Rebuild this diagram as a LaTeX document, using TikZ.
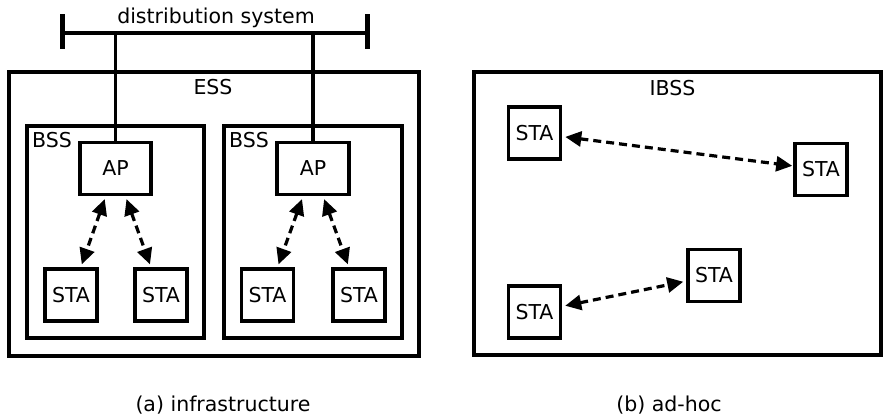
\documentclass[tikz,border=0pt]{standalone}
\usepackage{fontspec}
\setmainfont{DejaVu Sans}
\usetikzlibrary{arrows.meta}
\begin{document}
\begin{tikzpicture}[x=1pt,y=-1pt,
  font=\fontsize{20.5}{24}\selectfont,
  area/.style={draw, line width=3.6pt, inner sep=0pt},
  unit/.style={draw, line width=3.6pt, inner sep=0pt, minimum width=52pt, minimum height=52pt},
  accesspt/.style={draw, line width=3.6pt, inner sep=0pt, minimum width=71.5pt, minimum height=52pt},
  radio/.style={line width=3.2pt, dash pattern=on 8pt off 5pt,
    {Triangle[length=16pt,width=15pt]}-{Triangle[length=16pt,width=15pt]},
    shorten <=3pt, shorten >=3pt},
  wire/.style={line width=3.4pt},
  lbl/.style={inner sep=0pt, anchor=base}]
  \useasboundingbox (0,0) rectangle (885,419);

  % ---- infrastructure mode ----
  \node[area, minimum width=410.5pt, minimum height=284.5pt] (ess) at (214,214) {};
  \node[area, minimum width=177.5pt, minimum height=212.5pt] (bssA) at (115.5,232) {};
  \node[area, minimum width=178.5pt, minimum height=212.5pt] (bssB) at (313,232) {};

  \node[accesspt] (apA) at (115.5,168.5) {AP};
  \node[accesspt] (apB) at (313,168.5) {AP};

  \node[unit] (s1) at (71,295) {STA};
  \node[unit] (s2) at (161,295) {STA};
  \node[unit] (s3) at (267.5,295) {STA};
  \node[unit] (s4) at (359,295) {STA};

  % distribution system bus with end stops
  \coordinate (busL) at (62,33);
  \coordinate (busR) at (367,33);
  \draw[wire] (busL) -- (busR);
  \draw[line width=5pt] ([yshift=-16pt]busL) -- ([yshift=19pt]busL);
  \draw[line width=5pt] ([yshift=-16pt]busR) -- ([yshift=19pt]busR);
  \draw[wire] (apA.north) -- (apA.north |- busL);
  \draw[wire] (apB.north) -- (apB.north |- busL);

  \node[lbl] (dslbl) at (216,24) {distribution system};
  \node[lbl] (esslbl) at (213,95) {ESS};
  \node[lbl, anchor=base west] (bssAlbl) at (32,148) {BSS};
  \node[lbl, anchor=base west] (bssBlbl) at (229,148) {BSS};

  \draw[radio] (apA) -- (s1);
  \draw[radio] (apA) -- (s2);
  \draw[radio] (apB) -- (s3);
  \draw[radio] (apB) -- (s4);

  % ---- ad-hoc mode ----
  \node[area, minimum width=407.5pt, minimum height=283.5pt] (ibss) at (677.5,213.5) {};
  \node[lbl] (ibsslbl) at (672.5,96) {IBSS};

  \node[unit] (ta) at (534.5,133) {STA};
  \node[unit] (tb) at (821,169.5) {STA};
  \node[unit] (tc) at (714,275.5) {STA};
  \node[unit] (td) at (534.5,312) {STA};

  \draw[radio, shorten >=1pt] (ta) -- (tb);
  \draw[radio] (td) -- (tc);

  % ---- captions ----
  \node[lbl] (capa) at (223,411) {(a) infrastructure};
  \node[lbl] (capb) at (669,411) {(b) ad-hoc};
\end{tikzpicture}
\end{document}
